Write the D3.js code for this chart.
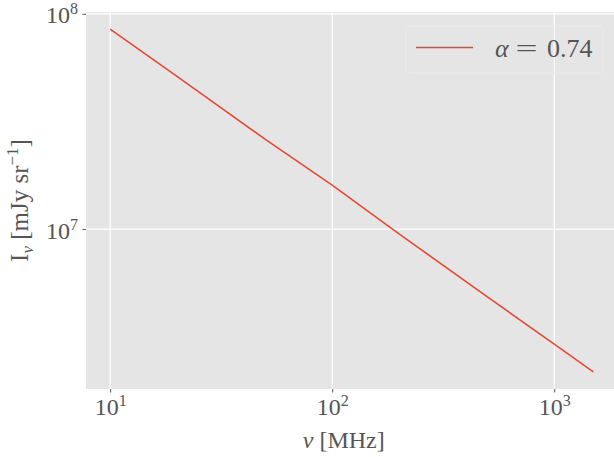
<!DOCTYPE html>
<html>
<head>
<meta charset="utf-8">
<script src="https://cdn.jsdelivr.net/npm/d3@7"></script>
<style>
  html, body { margin: 0; padding: 0; background: #fff; }
  svg { display: block; }
  text { font-family: "Liberation Serif", "DejaVu Serif", serif; fill: #555555; }
</style>
</head>
<body>
<svg id="chart" width="614" height="457"></svg>
<script>
// Synchrotron spectrum: intensity vs frequency (log-log)
const frequencyMHz = [10, 20, 50, 100, 200, 500, 1000, 1500];
const intensity = [8.49e7, 5.12e7, 2.61e7, 1.6e7, 9.5e6, 4.84e6, 2.92e6, 2.17e6];
const xTickValues = [10, 100, 1000];
const xTickExponents = ["1", "2", "3"];
const yTickValues = [1e7, 1e8];
const yTickExponents = ["7", "8"];
const seriesLabel = "0.74";

const plot = { left: 86, top: 12, right: 617.5, bottom: 389 };
const lineColor = "#E24A33";

// log-space extent padded by 5% on each side
function paddedLog(values) {
  const lo = Math.log10(d3.min(values)), hi = Math.log10(d3.max(values));
  const m = (hi - lo) * 0.05;
  return [Math.pow(10, lo - m), Math.pow(10, hi + m)];
}

const x = d3.scaleLog().domain(paddedLog(frequencyMHz)).range([plot.left, plot.right]);
const y = d3.scaleLog().domain(paddedLog(intensity)).range([plot.bottom, plot.top]);

const svg = d3.select("#chart");

svg.append("rect")
  .attr("x", plot.left).attr("y", plot.top)
  .attr("width", plot.right - plot.left).attr("height", plot.bottom - plot.top)
  .attr("fill", "#E5E5E5");

// grid
const grid = svg.append("g").attr("stroke", "#ffffff").attr("stroke-width", 1.2);
grid.selectAll("line.vx").data(xTickValues).join("line")
  .attr("x1", d => x(d)).attr("x2", d => x(d))
  .attr("y1", plot.top).attr("y2", plot.bottom);
grid.selectAll("line.hy").data(yTickValues.filter(v => y(v) > plot.top + 1)).join("line")
  .attr("y1", d => y(d)).attr("y2", d => y(d))
  .attr("x1", plot.left).attr("x2", plot.right);

// x axis
const xAxis = d3.axisBottom(x).tickValues(xTickValues).tickSize(3.5).tickFormat(() => "");
const gx = svg.append("g").attr("transform", `translate(0,${plot.bottom})`).call(xAxis);
gx.select(".domain").remove();
gx.selectAll(".tick line").attr("stroke", "#555555").attr("stroke-width", 1);
gx.selectAll(".tick").each(function(d, i) {
  const t = d3.select(this).append("text")
    .attr("y", 26).attr("text-anchor", "middle")
    .attr("font-size", 24).attr("fill", "#555555");
  t.append("tspan").text("10");
  t.append("tspan").attr("dy", -9).attr("font-size", 16).text(xTickExponents[i]);
});

// y axis
const yAxis = d3.axisLeft(y).tickValues(yTickValues).tickSize(3.5).tickFormat(() => "");
const gy = svg.append("g").attr("transform", `translate(${plot.left},0)`).call(yAxis);
gy.select(".domain").remove();
gy.selectAll(".tick line").attr("stroke", "#555555").attr("stroke-width", 1);
gy.selectAll(".tick").each(function(d, i) {
  const t = d3.select(this).append("text")
    .attr("x", -8).attr("y", 9).attr("text-anchor", "end")
    .attr("font-size", 24).attr("fill", "#555555");
  t.append("tspan").text("10");
  t.append("tspan").attr("dy", -9).attr("font-size", 16).text(yTickExponents[i]);
});

// data line
svg.append("clipPath").attr("id", "plotclip").append("rect")
  .attr("x", plot.left).attr("y", plot.top)
  .attr("width", plot.right - plot.left).attr("height", plot.bottom - plot.top);
svg.append("path")
  .datum(frequencyMHz.map((f, i) => [f, intensity[i]]))
  .attr("clip-path", "url(#plotclip)")
  .attr("fill", "none").attr("stroke", lineColor).attr("stroke-width", 1.6)
  .attr("d", d3.line().x(d => x(d[0])).y(d => y(d[1])));

// axis labels
const xl = svg.append("text")
  .attr("x", (plot.left + plot.right) / 2 - 8).attr("y", 448)
  .attr("text-anchor", "middle").attr("font-size", 24);
xl.append("tspan").attr("font-style", "italic").text("ν");
xl.append("tspan").text(" [MHz]");

const yl = svg.append("text")
  .attr("transform", `translate(28,${(plot.top + plot.bottom) / 2}) rotate(-90)`)
  .attr("text-anchor", "middle").attr("font-size", 25);
yl.append("tspan").text("I");
yl.append("tspan").attr("font-style", "italic").attr("font-size", 17).attr("dy", 5).text("ν");
yl.append("tspan").attr("dy", -5).text(" [mJy sr");
yl.append("tspan").attr("font-size", 17).attr("dy", -10).text("−1");
yl.append("tspan").attr("dy", 10).text("]");

// legend
const lg = svg.append("g");
lg.append("rect")
  .attr("x", 406).attr("y", 26).attr("width", 197).attr("height", 47).attr("rx", 4)
  .attr("fill", "#E5E5E5").attr("fill-opacity", 0.2)
  .attr("stroke", "#EBEBEB").attr("stroke-width", 1);
lg.append("line")
  .attr("x1", 416).attr("x2", 473).attr("y1", 47.5).attr("y2", 47.5)
  .attr("stroke", lineColor).attr("stroke-width", 1.6);
const lt = lg.append("g").attr("font-size", 26);
lt.append("text").attr("x", 495).attr("y", 57).attr("font-size", 26).attr("fill", "#111111")
  .attr("font-style", "italic").text("α");
lt.append("text").attr("x", 526.5).attr("y", 57).attr("font-size", 26).attr("fill", "#111111")
  .attr("text-anchor", "middle").attr("transform", "translate(526.5,0) scale(1.5,1) translate(-526.5,0)")
  .text("=");
lt.append("text").attr("x", 547).attr("y", 57).attr("font-size", 26).attr("fill", "#111111")
  .text(seriesLabel);
</script>
</body>
</html>
